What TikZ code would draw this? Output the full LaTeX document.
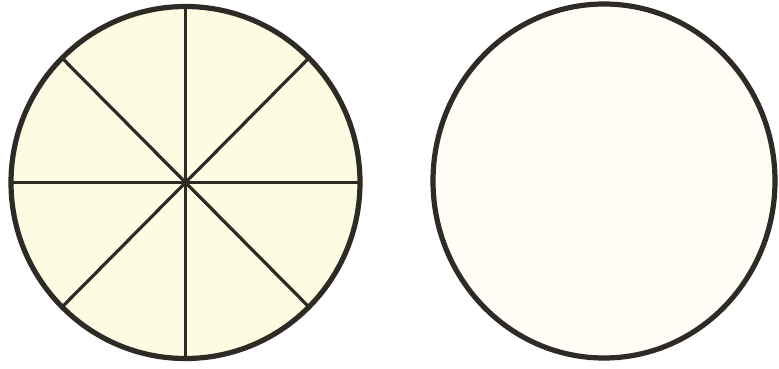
\documentclass[tikz,border=0pt]{standalone}
\usepackage{tikz}
\usetikzlibrary{calc}
\definecolor{ink}{HTML}{2E2A26}
\definecolor{paleyellow}{HTML}{FCFCE2}
\definecolor{cream}{HTML}{FFFDF5}
\tikzset{
  rim/.style={draw=ink, line width=5.2pt},
  spoke/.style={draw=ink, line width=3.2pt},
}
\begin{document}
\begin{tikzpicture}[x=1pt,y=-1pt]
\useasboundingbox[fill=white] (0,0) rectangle (779,368);
\coordinate (cl) at (185.5,182.5);
\coordinate (cr) at (604,181);
% left divided circle
\fill[paleyellow] (cl) ellipse [x radius=174.5, y radius=176];
\foreach \a in {0,45,...,315}{
  \draw[spoke] (cl) -- ($(cl)+({174.5*cos(\a)},{176*sin(\a)})$);
}
\draw[rim] (cl) ellipse [x radius=174.5, y radius=176];
% right plain circle
\draw[rim, fill=cream] (cr) ellipse [x radius=171, y radius=177];
\end{tikzpicture}
\end{document}
